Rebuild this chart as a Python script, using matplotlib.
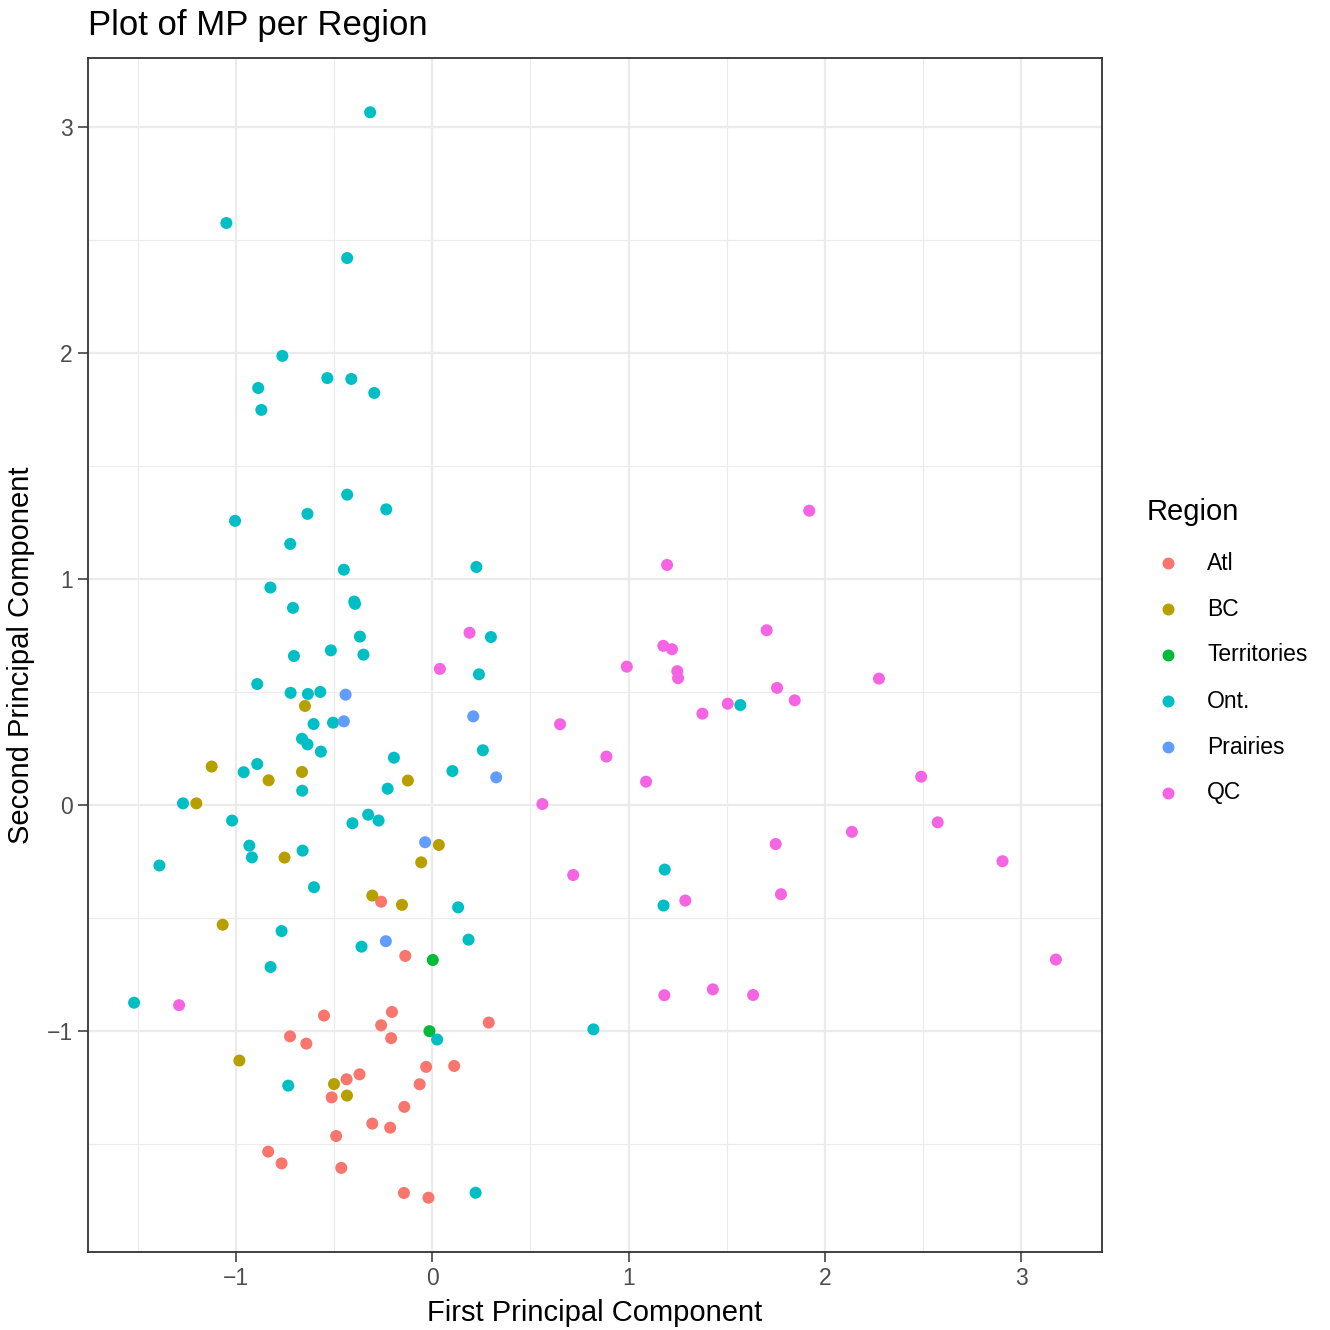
import matplotlib
matplotlib.use('Agg')
import matplotlib.pyplot as plt
from matplotlib.lines import Line2D
from matplotlib.ticker import MultipleLocator

plt.rcParams['font.family'] = ['Liberation Sans', 'DejaVu Sans']

# Data (PC1, PC2) per region
atl_x = [-0.26, -0.137, -0.551, -0.205, -0.26, 0.288, -0.724, -0.641, -0.209, -0.031, 0.112, -0.37,
         -0.436, -0.064, -0.512, -0.142, -0.305, -0.214, -0.489, -0.835, -0.767, -0.463, -0.144, -0.019]
atl_y = [-0.428, -0.668, -0.932, -0.916, -0.975, -0.963, -1.024, -1.056, -1.032, -1.159, -1.155, -1.192,
         -1.214, -1.236, -1.294, -1.336, -1.41, -1.428, -1.465, -1.534, -1.586, -1.606, -1.717, -1.738]

bc_x = [-0.648, -1.123, -0.833, -0.663, -0.124, -1.201, 0.034, -0.752, -0.056, -0.305, -0.154, -1.067,
        -0.982, -0.5, -0.434]
bc_y = [0.438, 0.17, 0.109, 0.146, 0.108, 0.007, -0.177, -0.233, -0.254, -0.401, -0.442, -0.53,
        -1.131, -1.235, -1.286]

terr_x = [0.003, -0.014]
terr_y = [-0.686, -1.001]

ont_x = [-0.316, -1.048, -0.433, -0.763, -0.886, -0.534, -0.412, -0.295, -0.870,
         -0.433, -0.234, -1.004, -0.635, -0.723, -0.45, 0.225, -0.824, -0.709, -0.397, -0.393,
         0.299, -0.368, -0.516, -0.35, -0.704, 0.238, -0.891, -0.721, -0.633, -0.570, -0.604,
         -0.505, -0.663, -0.635, -0.567, 0.258, -0.195, -0.891, -0.96, 0.103, -0.662, -0.227,
         -1.269, -1.019, -0.406, -0.326, -0.273, -0.931, -0.918, -0.66, -1.389, -0.602, 0.132,
         -0.767, 0.185, -0.36, -0.823, -1.518, 0.025, -0.733, 0.221, 1.569, 1.184, 1.178, 0.821]
ont_y = [3.065, 2.575, 2.42, 1.987, 1.845, 1.889, 1.885, 1.823, 1.748,
         1.373, 1.308, 1.257, 1.288, 1.155, 1.041, 1.053, 0.962, 0.872, 0.90, 0.89,
         0.743, 0.745, 0.684, 0.665, 0.659, 0.578, 0.535, 0.496, 0.491, 0.5, 0.358,
         0.364, 0.293, 0.268, 0.236, 0.242, 0.209, 0.181, 0.145, 0.15, 0.063, 0.072,
         0.007, -0.069, -0.081, -0.043, -0.069, -0.18, -0.232, -0.202, -0.268, -0.364, -0.453,
         -0.558, -0.596, -0.627, -0.717, -0.875, -1.038, -1.242, -1.716, 0.442, -0.286, -0.445, -0.993]

pra_x = [-0.441, 0.209, -0.45, 0.326, -0.036, -0.236]
pra_y = [0.488, 0.392, 0.37, 0.122, -0.165, -0.603]

qc_x = [0.19, 0.039, -1.289, 1.196, 1.92, 1.703, 1.177, 1.221, 0.991, 1.248, 1.252, 1.756, 1.846,
        1.505, 1.376, 0.651, 0.887, 1.089, 0.561, 1.749, 0.718, 2.275, 2.49, 2.574, 2.137, 2.904,
        1.289, 1.776, 3.176, 1.182, 1.429, 1.634]
qc_y = [0.762, 0.602, -0.886, 1.062, 1.302, 0.773, 0.704, 0.689, 0.612, 0.592, 0.561, 0.518, 0.463,
        0.448, 0.404, 0.357, 0.214, 0.103, 0.004, -0.173, -0.31, 0.559, 0.125, -0.077, -0.119, -0.249,
        -0.423, -0.395, -0.684, -0.842, -0.816, -0.841]

regions = ['Atl', 'BC', 'Territories', 'Ont.', 'Prairies', 'QC']
colors = ['#F8766D', '#B79F00', '#00BA38', '#00BFC4', '#619CFF', '#F564E3']
xs = [atl_x, bc_x, terr_x, ont_x, pra_x, qc_x]
ys = [atl_y, bc_y, terr_y, ont_y, pra_y, qc_y]

fig = plt.figure(figsize=(13.3, 13.3), dpi=100)
ax = fig.add_axes([88 / 1330, 1 - 1252 / 1330, (1102 - 88) / 1330, (1252 - 58) / 1330])

for x, y, c in zip(xs, ys, colors):
    ax.scatter(x, y, s=75, color=c, edgecolors='none', zorder=3)

ax.margins(0.05)
ax.xaxis.set_major_locator(MultipleLocator(1))
ax.yaxis.set_major_locator(MultipleLocator(1))
ax.xaxis.set_minor_locator(MultipleLocator(0.5))
ax.yaxis.set_minor_locator(MultipleLocator(0.5))
ax.grid(which='major', color='#EBEBEB', linewidth=1.6, zorder=0)
ax.grid(which='minor', color='#EBEBEB', linewidth=0.8, zorder=0)
ax.set_axisbelow(True)
ax.tick_params(which='major', length=7, width=1.1, color='#333333',
               labelsize=16.5, labelcolor='#4D4D4D', pad=4)
ax.tick_params(which='minor', length=0)
for sp in ax.spines.values():
    sp.set_color('#333333')
    sp.set_linewidth(1.3)

ax.set_xlabel('First Principal Component', fontsize=21, color='black', labelpad=6)
ax.set_ylabel('Second Principal Component', fontsize=21, color='black', labelpad=8)
fig.text(88 / 1330, 1 - 25 / 1330, 'Plot of MP per Region', fontsize=25, ha='left', va='center')

# legend
fig.text(1147 / 1330, 1 - 512 / 1330, 'Region', fontsize=21, ha='left', va='center')
for i, (name, c) in enumerate(zip(regions, colors)):
    yy = 1 - (563 + 46 * i) / 1330
    fig.add_artist(Line2D([1168 / 1330], [yy], marker='o', markersize=8.6, color=c,
                          markeredgewidth=0, linestyle='none', transform=fig.transFigure))
    fig.text(1207 / 1330, yy, name, fontsize=16.5, ha='left', va='center')

fig.savefig('out.png', dpi=100)
